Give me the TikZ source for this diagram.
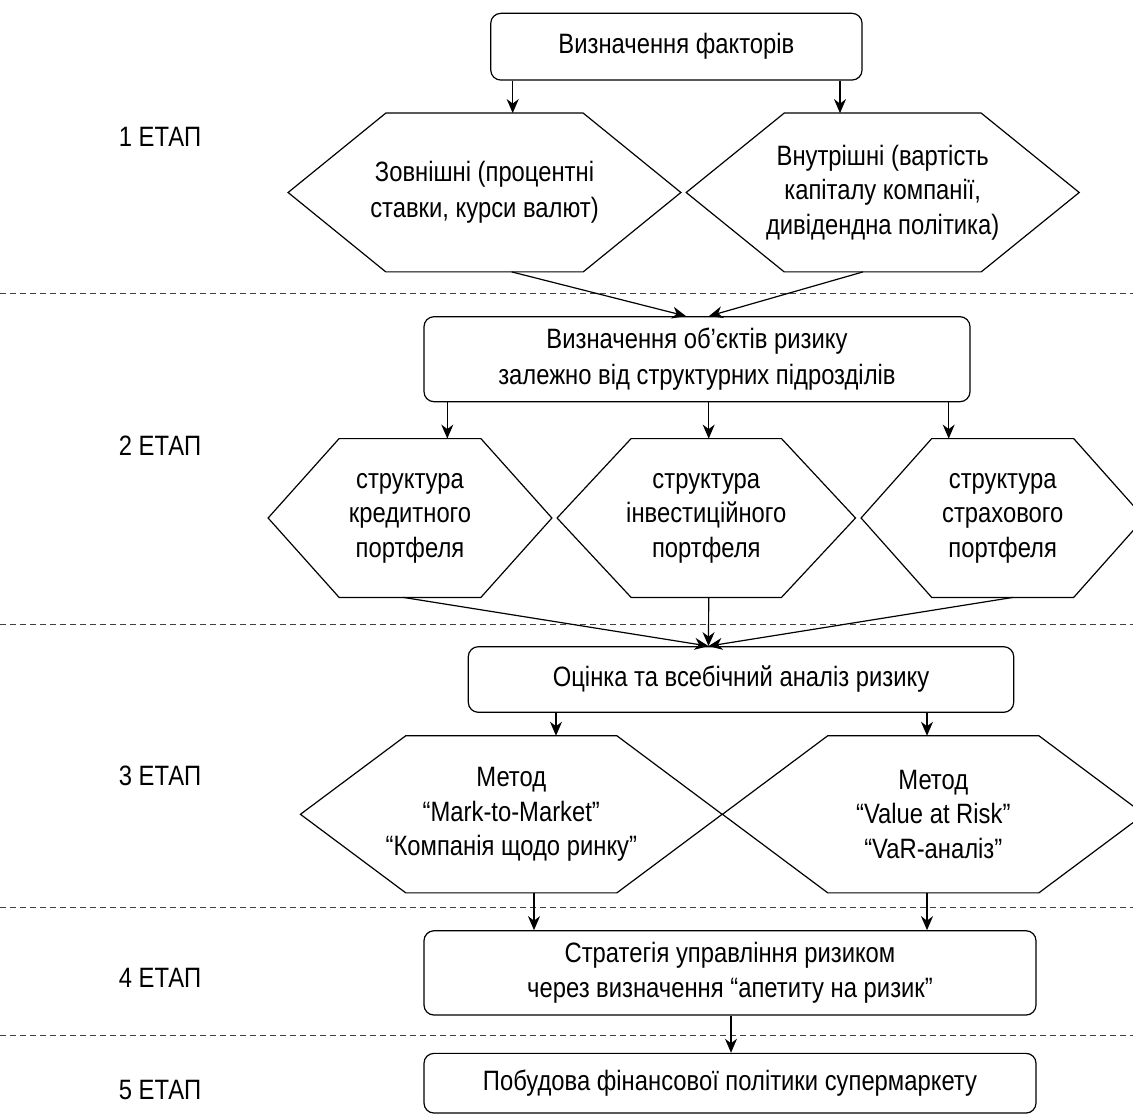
\documentclass[tikz,border=0pt]{standalone}
\usepackage{fontspec}
\setmainfont{Liberation Sans}[FakeStretch=0.85]
\usetikzlibrary{arrows.meta,calc}
\newcommand\hexdraw[2]{\draw[hexline] (#1.west) -- ([xshift=#2]#1.north west) -- ([xshift=-#2]#1.north east) -- (#1.east) -- ([xshift=-#2]#1.south east) -- ([xshift=#2]#1.south west) -- cycle;}
\begin{document}
\begin{tikzpicture}[x=1pt,y=-1pt,
  every node/.style={font=\fontsize{28}{34.5}\selectfont, align=center, inner sep=0pt, text=black},
  rbox/.style={draw, rounded corners=10pt, line width=1.2pt},
  hexn/.style={minimum height=158.4pt},
  hexline/.style={line width=1.2pt, line join=miter},
  arr/.style={-{Stealth[length=14pt,width=12pt,inset=4.5pt]}, line width=1.2pt},
  sepline/.style={dash pattern=on 6pt off 4pt, line width=1pt, black!75},
  stage/.style={}
]
\useasboundingbox (0,0) rectangle (1133,1115);

% separators
\draw[sepline] (0,293.3) -- (1133,293.3);
\draw[sepline] (0,624) -- (1133,624);
\draw[sepline] (0,907.7) -- (1133,907.7);
\draw[sepline] (0,1035) -- (1133,1035);

% stage labels
\node[stage] (s1) at (160,136.4) {1 ЕТАП};
\node[stage] (s2) at (160,446) {2 ЕТАП};
\node[stage] (s3) at (160,776) {3 ЕТАП};
\node[stage] (s4) at (160,978) {4 ЕТАП};
\node[stage] (s5) at (160,1090) {5 ЕТАП};

% boxes
\node[rbox, minimum width=371.3pt, minimum height=66.7pt] (b1) at (676.4,46.7) {Визначення факторів};
\node[rbox, minimum width=546pt, minimum height=85pt] (b2) at (697,359.2) {Визначення об’єктів ризику\\[1.5pt]залежно від структурних підрозділів};
\node[rbox, minimum width=545.4pt, minimum height=65.6pt] (b3) at (741,679.5) {Оцінка та всебічний аналіз ризику};
\node[rbox, minimum width=612pt, minimum height=84.3pt] (b4) at (730,972.9) {Стратегія управління ризиком\\через визначення “апетиту на ризик”};
\node[rbox, minimum width=612pt, minimum height=59.7pt] (b5) at (730,1083.2) {Побудова фінансової політики супермаркету};

% hexagons
\node[hexn, minimum width=392.4pt] (h1) at (484.5,192.5) {Зовнішні (процентні\\[1.5pt]ставки, курси валют)};
\hexdraw{h1}{97.7}
\node[hexn, minimum width=392.6pt] (h2) at (882.7,192.5) {Внутрішні (вартість\\капіталу компанії,\\дивідендна політика)};
\hexdraw{h2}{98}
\node[hexn, minimum width=283.4pt] (ha) at (410,518) {структура\\кредитного\\портфеля};
\hexdraw{ha}{71}
\node[hexn, minimum width=298pt] (hb) at (706.3,518) {структура\\інвестиційного\\портфеля};
\hexdraw{hb}{74}
\node[hexn, minimum width=282.8pt] (hc) at (1002.7,518) {структура\\страхового\\портфеля};
\hexdraw{hc}{70.6}
\node[hexn, minimum height=156.7pt, minimum width=421.3pt] (hl) at (511.3,814.3) {Метод\\“Mark-to-Market”\\“Компанія щодо ринку”};
\hexdraw{hl}{105.3}
\node[hexn, minimum height=156.7pt, minimum width=421.3pt] (hr) at (933.3,814.3) {Метод\\“Value at Risk”\\“VaR-аналіз”};
\hexdraw{hr}{105.3}

% connectors
\draw[arr] ([xshift=-163.7pt]b1.south) -- ([xshift=28.2pt]h1.north);
\draw[arr] ([xshift=163.6pt]b1.south) -- ([xshift=-42.7pt]h2.north);
\draw[arr] ([xshift=27.2pt]h1.south) -- ([xshift=-11pt]b2.north);
\draw[arr] ([xshift=-19.7pt]h2.south) -- ([xshift=12pt]b2.north);
\draw[arr] ([xshift=-249.7pt]b2.south) -- ([xshift=37.3pt]ha.north);
\draw[arr] ([xshift=11.7pt]b2.south) -- ([xshift=2.4pt]hb.north);
\draw[arr] ([xshift=251.7pt]b2.south) -- ([xshift=-54pt]hc.north);
\draw[arr] ([xshift=-6.7pt]ha.south) -- ([xshift=-32.5pt]b3.north);
\draw[arr] ([xshift=2.4pt]hb.south) -- ([xshift=-32.5pt]b3.north);
\draw[arr] ([xshift=10.3pt]hc.south) -- ([xshift=-32.5pt]b3.north);
\draw[arr] ([xshift=-185pt]b3.south) -- ([xshift=44.7pt]hl.north);
\draw[arr] ([xshift=186pt]b3.south) -- ([xshift=-6.3pt]hr.north);
\draw[arr] ([xshift=22.7pt]hl.south) -- ([xshift=-196pt]b4.north);
\draw[arr] ([xshift=-6.3pt]hr.south) -- ([xshift=197pt]b4.north);
\draw[arr] ([xshift=1pt]b4.south) -- ([xshift=1pt]b5.north);
\end{tikzpicture}
\end{document}
